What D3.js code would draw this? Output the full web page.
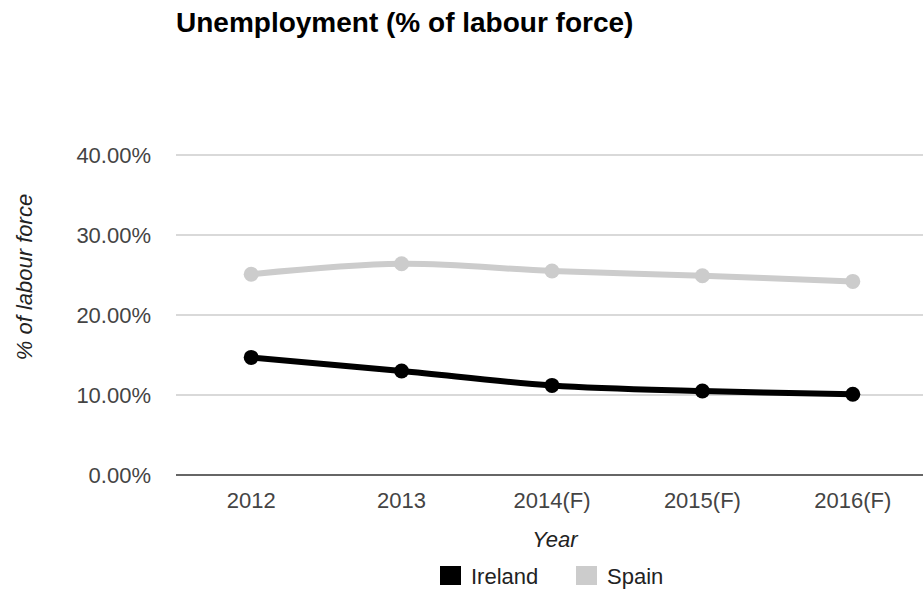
<!DOCTYPE html>
<html lang="en">
<head>
    <meta charset="UTF-8">
    <title>Unemployment (% of labour force)</title>
    <script src="https://d3js.org/d3.v7.min.js"></script>
    <style>
        body {
            margin: 0;
            background: #ffffff;
            font-family: "Liberation Sans", Arial, sans-serif;
        }
        .title {
            font-size: 28px;
            font-weight: bold;
            fill: #000;
        }
        .tick-label {
            font-size: 22px;
            fill: #444;
        }
        .axis-title {
            font-size: 22px;
            font-style: italic;
            fill: #222;
        }
        .legend-label {
            font-size: 22px;
            fill: #222;
        }
    </style>
</head>
<body>
    <div id="chart"></div>

    <script>
        const years = ["2012", "2013", "2014(F)", "2015(F)", "2016(F)"];
        const ireland = [14.7, 13.0, 11.2, 10.5, 10.1];
        const spain = [25.1, 26.4, 25.5, 24.9, 24.2];
        const yTicks = [0, 10, 20, 30, 40];

        const seriesNames = ["Ireland", "Spain"];
        const seriesColors = ["#000000", "#cccccc"];
        const seriesValues = [ireland, spain];

        const width = 923, height = 590;
        const margin = { top: 155, right: 0, bottom: 115, left: 176 };

        const svg = d3.select("#chart")
            .append("svg")
            .attr("width", width)
            .attr("height", height);

        const x = d3.scalePoint()
            .domain(years)
            .range([margin.left, 928])
            .padding(0.5);

        const y = d3.scaleLinear()
            .domain([0, 40])
            .range([height - margin.bottom, margin.top]);

        // Title
        svg.append("text")
            .attr("class", "title")
            .attr("x", 176)
            .attr("y", 32)
            .text("Unemployment (% of labour force)");

        // Gridlines
        svg.append("g")
            .selectAll("line")
            .data(yTicks.filter(d => d !== 0))
            .enter()
            .append("line")
            .attr("x1", margin.left)
            .attr("x2", width)
            .attr("y1", d => y(d))
            .attr("y2", d => y(d))
            .attr("stroke", "#cccccc")
            .attr("stroke-width", 1.5);

        // Y tick labels
        svg.append("g")
            .selectAll("text")
            .data(yTicks)
            .enter()
            .append("text")
            .attr("class", "tick-label")
            .attr("x", 151)
            .attr("y", d => y(d))
            .attr("dy", "0.36em")
            .attr("text-anchor", "end")
            .text(d => d.toFixed(2) + "%");

        // Lines
        const line = d3.line()
            .x((d, i) => x(years[i]))
            .y(d => y(d))
            .curve(d3.curveCatmullRom.alpha(0.5));

        // Spain drawn first so Ireland sits on top
        [1, 0].forEach(s => {
            svg.append("path")
                .datum(seriesValues[s])
                .attr("fill", "none")
                .attr("stroke", seriesColors[s])
                .attr("stroke-width", 6)
                .attr("stroke-linejoin", "round")
                .attr("d", line);

            svg.append("g")
                .selectAll("circle")
                .data(seriesValues[s])
                .enter()
                .append("circle")
                .attr("cx", (d, i) => x(years[i]))
                .attr("cy", d => y(d))
                .attr("r", 7.5)
                .attr("fill", seriesColors[s]);
        });

        // Baseline
        svg.append("line")
            .attr("x1", margin.left)
            .attr("x2", width)
            .attr("y1", y(0))
            .attr("y2", y(0))
            .attr("stroke", "#666666")
            .attr("stroke-width", 2);

        // X tick labels
        svg.append("g")
            .selectAll("text")
            .data(years)
            .enter()
            .append("text")
            .attr("class", "tick-label")
            .attr("x", d => x(d))
            .attr("y", 508)
            .attr("text-anchor", "middle")
            .text(d => d);

        // Axis titles
        svg.append("text")
            .attr("class", "axis-title")
            .attr("x", 555)
            .attr("y", 547)
            .attr("text-anchor", "middle")
            .text("Year");

        svg.append("text")
            .attr("class", "axis-title")
            .attr("transform", "translate(32,277) rotate(-90)")
            .attr("text-anchor", "middle")
            .text("% of labour force");

        // Legend
        const legendX = [440, 576];
        const legend = svg.append("g");
        seriesNames.forEach((name, i) => {
            legend.append("rect")
                .attr("x", legendX[i])
                .attr("y", 566)
                .attr("width", 21)
                .attr("height", 19)
                .attr("fill", seriesColors[i]);
            legend.append("text")
                .attr("class", "legend-label")
                .attr("x", legendX[i] + 31)
                .attr("y", 584)
                .text(name);
        });
    </script>
</body>
</html>
